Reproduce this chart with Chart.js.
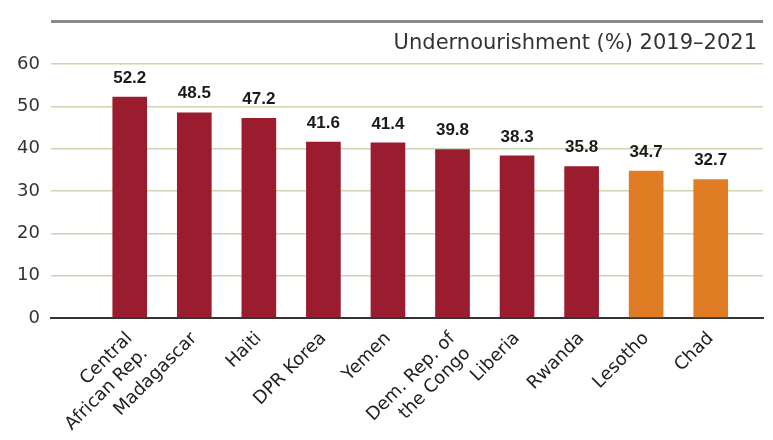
<!DOCTYPE html>
<html>
<head>
<meta charset="utf-8">
<script src="https://cdn.jsdelivr.net/npm/chart.js@4/dist/chart.umd.min.js"></script>
<style>
  html, body { margin: 0; padding: 0; background: #fff; }
  #wrap { width: 773px; height: 440px; }
</style>
</head>
<body>
<div id="wrap"><canvas id="chart" width="773" height="440"></canvas></div>
<script>
const TITLE = 'Undernourishment (%) 2019–2021';
const COUNTRIES = [
  ['Central', 'African Rep.'], 'Madagascar', 'Haiti', 'DPR Korea', 'Yemen',
  ['Dem. Rep. of', 'the Congo'], 'Liberia', 'Rwanda', 'Lesotho', 'Chad'
];
const VALUES = [52.2, 48.5, 47.2, 41.6, 41.4, 39.8, 38.3, 35.8, 34.7, 32.7];
const HIGHLIGHT = [false, false, false, false, false, false, false, false, true, true];
const Y_TICKS = [0, 10, 20, 30, 40, 50, 60, 70];

const RED = '#9b1b2f';
const ORANGE = '#e07c24';
const GRID = '#cbd6b2';

// title inside the plot, right aligned under the grey top rule
const titlePlugin = {
  id: 'innerTitle',
  afterDraw(chart) {
    const { ctx, chartArea } = chart;
    ctx.save();
    ctx.font = '21px "DejaVu Sans"';
    ctx.fillStyle = '#333';
    ctx.textAlign = 'right';
    ctx.textBaseline = 'middle';
    ctx.fillText(TITLE, chartArea.right - 6, chartArea.top + 22);
    ctx.restore();
  }
};

// numbers above the bars
const valuePlugin = {
  id: 'values',
  afterDatasetsDraw(chart) {
    const { ctx } = chart;
    const meta = chart.getDatasetMeta(0);
    ctx.save();
    ctx.font = 'bold 17px "Liberation Sans"';
    ctx.fillStyle = '#1a1a1a';
    ctx.textAlign = 'center';
    ctx.textBaseline = 'middle';
    meta.data.forEach((bar, i) => {
      ctx.fillText(VALUES[i].toFixed(1), bar.x, bar.y - 19);
    });
    ctx.restore();
  }
};

new Chart(document.getElementById('chart'), {
  type: 'bar',
  data: {
    datasets: [{
      data: VALUES.map((v, i) => ({ x: i + 1, y: v })),
      backgroundColor: HIGHLIGHT.map(h => h ? ORANGE : RED),
      barThickness: 34,
      borderWidth: 0,
    }]
  },
  options: {
    responsive: false,
    animation: false,
    devicePixelRatio: 1,
    layout: { padding: { top: 17, right: 10, left: 0, bottom: 0 } },
    plugins: {
      legend: { display: false },
      tooltip: { enabled: false },
    },
    scales: {
      x: {
        type: 'linear',
        offset: false,
        min: -0.22,
        max: 10.81,
        afterBuildTicks: scale => { scale.ticks = COUNTRIES.map((c, i) => ({ value: i + 1 })); },
        afterFit: scale => { scale.height = 122; },
        grid: { display: false, drawTicks: false },
        border: { display: true, color: '#333', width: 2 },
        ticks: {
          autoSkip: false,
          minRotation: 45,
          maxRotation: 45,
          padding: 10,
          color: '#222',
          font: { family: 'DejaVu Sans', size: 18 },
          callback: v => COUNTRIES[v - 1],
        }
      },
      y: {
        min: 0,
        max: 70,
        afterBuildTicks: scale => { scale.ticks = Y_TICKS.map(v => ({ value: v })); },
        afterFit: scale => { scale.width = 51; },
        grid: {
          drawTicks: false,
          color: c => c.tick.value === 70 ? '#8a8a8a' : c.tick.value === 0 ? '#333' : GRID,
          lineWidth: c => c.tick.value === 70 ? 3 : c.tick.value === 0 ? 2 : 1.5,
        },
        border: { display: false },
        ticks: {
          padding: 11,
          color: '#333',
          font: { family: 'DejaVu Sans', size: 18 },
          callback: v => v === 70 ? '' : v,
        }
      }
    }
  },
  plugins: [titlePlugin, valuePlugin]
});
</script>
</body>
</html>
